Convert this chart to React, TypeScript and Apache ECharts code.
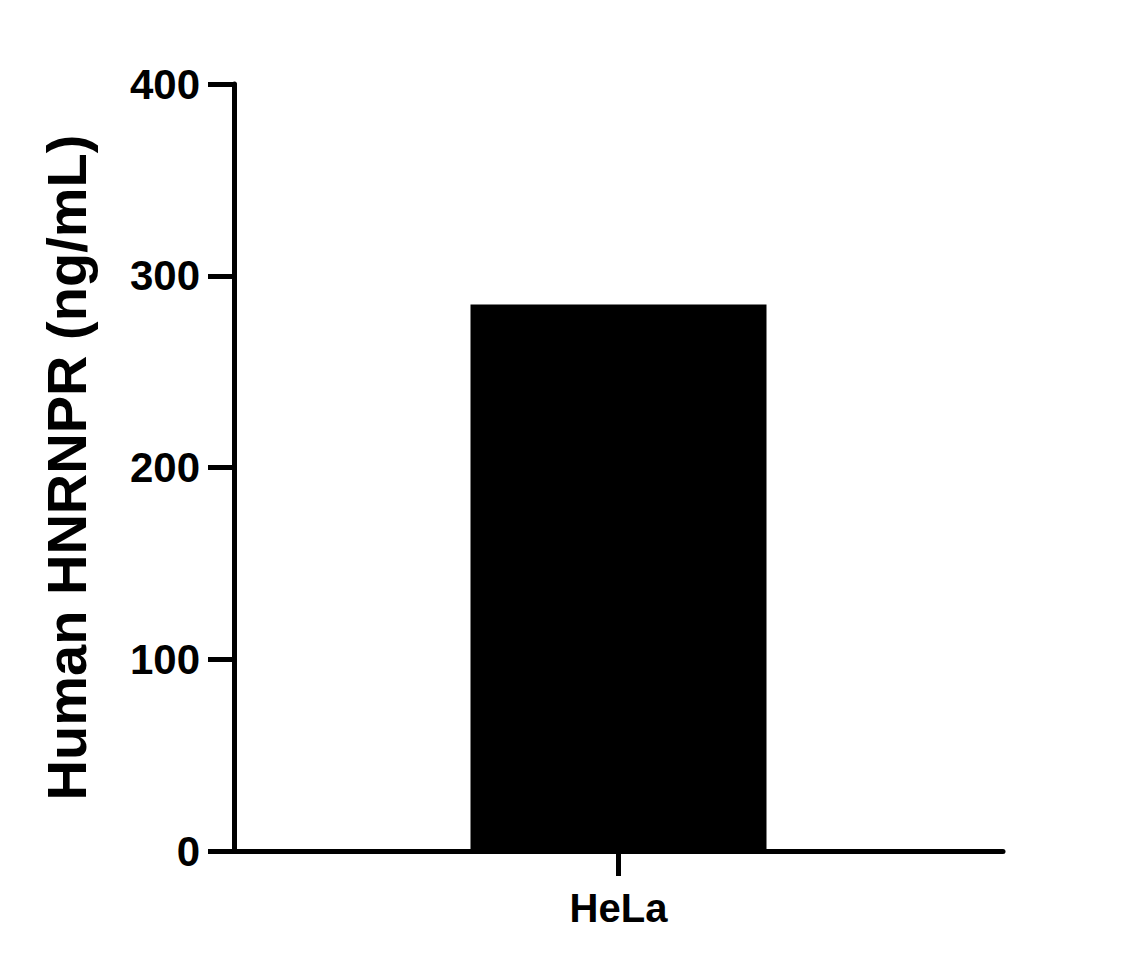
import { useEffect, useRef } from 'react';
import * as echarts from 'echarts';

const categories = ['HeLa'];
const values = [285];
const yTicks = [0, 100, 200, 300, 400];
const yTitle = 'Human HNRNPR (ng/mL)';

const FONT = '"Liberation Sans", Arial, Helvetica, sans-serif';

export default function App() {
  const chartRef = useRef<HTMLDivElement>(null);

  useEffect(() => {
    if (!chartRef.current) return;
    document.body.style.margin = '0';
    const chart = echarts.init(chartRef.current, null, { renderer: 'svg' });

    const option = {
      animation: false,
      backgroundColor: '#ffffff',
      grid: { left: 234, right: 137, top: 84, bottom: 117, containLabel: false },
      xAxis: {
        type: 'category',
        data: categories,
        axisLine: { show: true, lineStyle: { color: '#000', width: 5 } },
        axisTick: { show: true, alignWithLabel: true, length: 25, lineStyle: { color: '#000', width: 5 } },
        axisLabel: {
          color: '#000',
          fontFamily: FONT,
          fontWeight: 'bold',
          fontSize: 40,
          margin: 37,
        },
        splitLine: { show: false },
      },
      yAxis: {
        type: 'value',
        min: yTicks[0],
        max: yTicks[yTicks.length - 1],
        interval: 100,
        name: yTitle,
        nameLocation: 'middle',
        nameRotate: 90,
        nameGap: 140,
        nameTextStyle: {
          color: '#000',
          fontFamily: FONT,
          fontWeight: 'bold',
          fontSize: 56,
        },
        axisLine: { show: true, lineStyle: { color: '#000', width: 5 } },
        axisTick: { show: true, length: 26, lineStyle: { color: '#000', width: 5 } },
        axisLabel: {
          color: '#000',
          fontFamily: FONT,
          fontWeight: 'bold',
          fontSize: 42,
          margin: 34,
        },
        splitLine: { show: false },
      },
      series: [
        {
          type: 'bar',
          data: values,
          barWidth: 296,
          itemStyle: { color: '#000' },
        },
      ],
    };

    chart.setOption(option);
    return () => {
      chart.dispose();
    };
  }, []);

  return <div ref={chartRef} style={{ width: 1140, height: 968 }} />;
}
